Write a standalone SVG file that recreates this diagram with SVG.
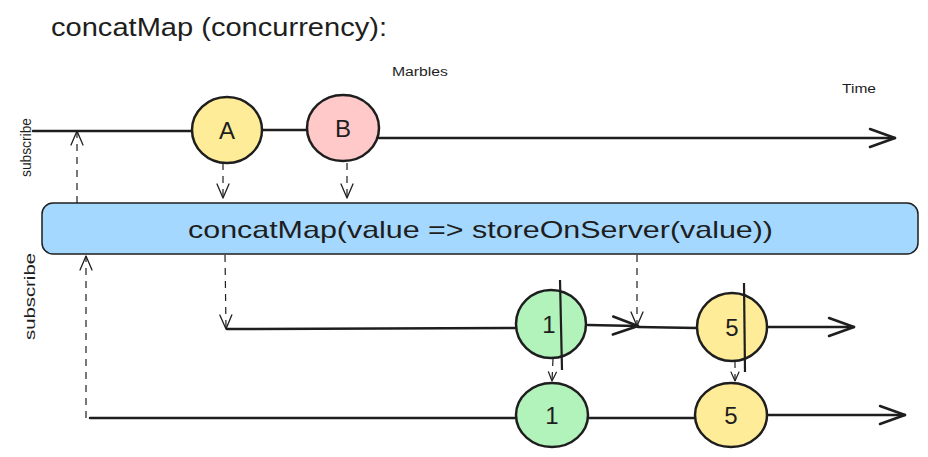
<svg xmlns="http://www.w3.org/2000/svg" width="928" height="457" viewBox="0 0 928 457">
<style>
  .ln { stroke: #1e1e1e; stroke-width: 2.5; fill: none; stroke-linecap: round; }
  .dash { stroke: #1e1e1e; stroke-width: 1.2; fill: none; stroke-dasharray: 7 6; }
  .mark { stroke: #1e1e1e; stroke-width: 2.2; fill: none; }
  .circ { stroke: #1e1e1e; stroke-width: 2.5; }
  .txt { font-family: "Liberation Sans", Arial, sans-serif; fill: #1e1e1e; }
  .num { font-family: "Liberation Sans", Arial, sans-serif; fill: #1e1e1e; font-size: 24px; text-anchor: middle; }
</style>
<defs>
  <marker id="big" markerUnits="userSpaceOnUse" markerWidth="30" markerHeight="24" refX="0" refY="0" viewBox="-28 -12 30 24" orient="auto" overflow="visible">
    <path d="M-25,-9 L0,0 L-25,9" fill="none" stroke="#1e1e1e" stroke-width="2.5" stroke-linecap="round" stroke-linejoin="round"/>
  </marker>
  <marker id="small" markerUnits="userSpaceOnUse" markerWidth="20" markerHeight="16" refX="0" refY="0" viewBox="-15 -8 16 16" orient="auto" overflow="visible">
    <path d="M-14,-6 L0,0 L-14,6" fill="none" stroke="#1e1e1e" stroke-width="1.3" stroke-linecap="round" stroke-linejoin="round"/>
  </marker>
  <marker id="tiny" markerUnits="userSpaceOnUse" markerWidth="14" markerHeight="10" refX="0" refY="0" viewBox="-10 -5 11 10" orient="auto" overflow="visible">
    <path d="M-9,-4 L0,0 L-9,4" fill="none" stroke="#1e1e1e" stroke-width="1.2" stroke-linecap="round" stroke-linejoin="round"/>
  </marker>
</defs>
<rect width="928" height="457" fill="#ffffff"/>

<g id="labels">
  <text class="txt" x="51" y="36" font-size="25" textLength="336" lengthAdjust="spacingAndGlyphs">concatMap (concurrency):</text>
  <text class="txt" x="392" y="76" font-size="12" textLength="56" lengthAdjust="spacingAndGlyphs">Marbles</text>
  <text class="txt" x="842" y="93" font-size="12" textLength="34" lengthAdjust="spacingAndGlyphs">Time</text>
  <text class="txt" font-size="14" transform="translate(31,177) rotate(-90)" textLength="59" lengthAdjust="spacingAndGlyphs">subscribe</text>
  <text class="txt" font-size="15" transform="translate(35,340) rotate(-90)" textLength="87" lengthAdjust="spacingAndGlyphs">subscribe</text>
</g>

<g id="connectors">
  <path class="ln" d="M33,131 L192,131"/>
  <path class="ln" d="M262,130 L308,130"/>
  <path class="ln" d="M379,138 L895,138" marker-end="url(#big)"/>
  <path class="dash" d="M223,163 L223,198" marker-end="url(#small)"/>
  <path class="dash" d="M347,163 L347,198" marker-end="url(#small)"/>
  <path class="dash" d="M77,203 L77,131" marker-end="url(#small)"/>
  <path class="dash" d="M86,418 L86,256" marker-end="url(#small)"/>
  <path class="dash" d="M225,255 L226,329" marker-end="url(#small)"/>
  <path class="dash" d="M637,255 L637,326" marker-end="url(#small)"/>
  <path class="ln" d="M227,329 L515,328"/>
  <path class="ln" d="M588,325 L638,326" marker-end="url(#big)"/>
  <path class="ln" d="M638,327 L697,328"/>
  <path class="ln" d="M768,327 L854,327" marker-end="url(#big)"/>
  <path class="dash" d="M553,359 L552,381" marker-end="url(#tiny)"/>
  <path class="dash" d="M735,361 L735,381" marker-end="url(#tiny)"/>
  <path class="ln" d="M90,418 L516,418"/>
  <path class="ln" d="M588,418 L695,418"/>
  <path class="ln" d="M767,415 L905,415" marker-end="url(#big)"/>
</g>

<g id="box">
  <rect x="42" y="203" width="876" height="51" rx="11" fill="#a5d8ff" stroke="#1e1e1e" stroke-width="1.5"/>
  <text class="txt" x="188" y="238" font-size="24" textLength="585" lengthAdjust="spacingAndGlyphs">concatMap(value =&gt; storeOnServer(value))</text>
</g>

<g id="marble-A">
  <ellipse class="circ" cx="227" cy="130" rx="35" ry="33" fill="#ffec99"/>
  <text class="num" x="227" y="139">A</text>
</g>
<g id="marble-B">
  <ellipse class="circ" cx="343" cy="128" rx="36" ry="33" fill="#ffc9c9"/>
  <text class="num" x="343" y="137">B</text>
</g>
<g id="inner-1">
  <ellipse class="circ" cx="551" cy="324" rx="35" ry="34" fill="#b2f2bb"/>
  <text class="num" x="549" y="333">1</text>
</g>
<g id="inner-5">
  <ellipse class="circ" cx="732" cy="327" rx="35" ry="34" fill="#ffec99"/>
  <text class="num" x="732" y="336">5</text>
</g>
<g id="out-1">
  <ellipse class="circ" cx="552" cy="415" rx="36" ry="32" fill="#b2f2bb"/>
  <text class="num" x="552" y="424">1</text>
</g>
<g id="out-5">
  <ellipse class="circ" cx="731" cy="415" rx="36" ry="32" fill="#ffec99"/>
  <text class="num" x="731" y="424">5</text>
</g>
<g id="completion-markers">
  <path class="mark" d="M560,280 L562,370"/>
  <path class="mark" d="M744,283 L745,372"/>
</g>
</svg>
